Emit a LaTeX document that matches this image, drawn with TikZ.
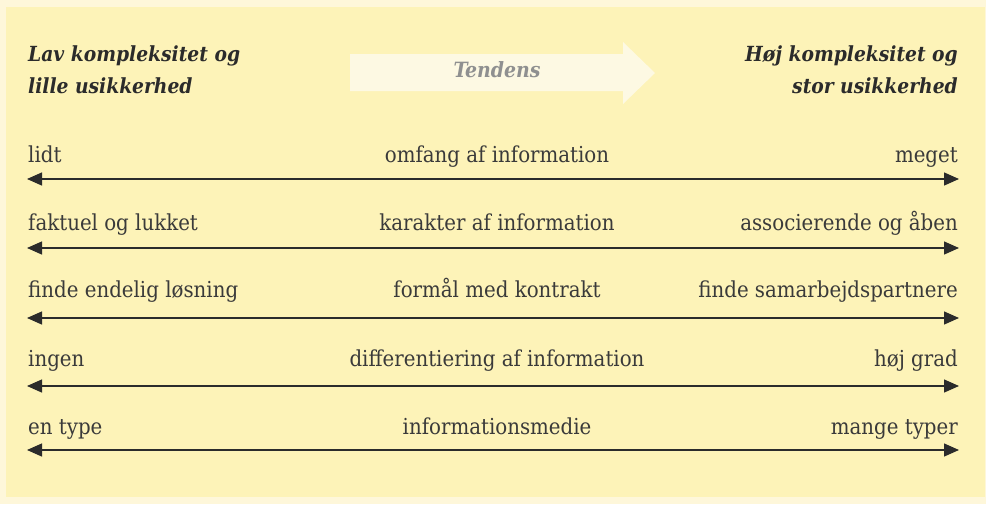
\documentclass[tikz,border=0pt]{standalone}
\usepackage{fontspec}
\setmainfont{DejaVu Serif Condensed}
\newfontfamily\headfont{DejaVu Serif Condensed}
\usetikzlibrary{arrows.meta}
\definecolor{outerbg}{HTML}{FEF7DA}
\definecolor{innerbg}{HTML}{FDF3B8}
\definecolor{tendfill}{HTML}{FDF9E3}
\definecolor{tendtext}{HTML}{8F9090}
\definecolor{ink}{HTML}{2B2B2B}
\definecolor{txt}{HTML}{3A3A3A}
\tikzset{
  lbl/.style={inner sep=0pt, font=\fontsize{22}{26}\selectfont, text=txt},
  lleft/.style={lbl, anchor=base west},
  lmid/.style={lbl, anchor=base},
  lright/.style={lbl, anchor=base east},
  head/.style={inner sep=0pt, font=\headfont\bfseries\itshape\fontsize{20.8}{24}\selectfont, text=ink},
  scaleline/.style={draw=ink, line width=1.3pt, {Triangle[length=15pt,width=13pt]}-{Triangle[length=15pt,width=13pt]}},
}
\begin{document}
\begin{tikzpicture}[x=1pt,y=-1pt]
\useasboundingbox (0,0) rectangle (986,504);
\fill[outerbg] (0,0) rectangle (986,504);
\fill[innerbg] (6,7) rectangle (985,497);
% Tendens arrow
\fill[tendfill] (350,54) -- (623,54) -- (623,42) -- (655,73) -- (623,104) -- (623,91) -- (350,91) -- cycle;
\node[inner sep=0pt, anchor=base, font=\headfont\bfseries\itshape\fontsize{21}{24}\selectfont, text=tendtext] (tend) at (497,77) {Tendens};
% headings
\node[head, anchor=base west] (hl1) at (28,61) {Lav kompleksitet og};
\node[head, anchor=base west] (hl2) at (28,93) {lille usikkerhed};
\node[head, anchor=base east] (hr1) at (958,61) {Høj kompleksitet og};
\node[head, anchor=base east] (hr2) at (958,93) {stor usikkerhed};
% rows
\foreach \i/\y/\t/\l/\m/\r in {
  1/179/162/lidt/omfang af information/meget,
  2/248/230/faktuel og lukket/karakter af information/associerende og åben,
  3/318/297/finde endelig løsning/formål med kontrakt/finde samarbejdspartnere,
  4/386/366/ingen/differentiering af information/høj grad,
  5/450/434/en type/informationsmedie/mange typer}{
  \node[lleft] (l\i) at (28,\t) {\l};
  \node[lmid] (m\i) at (497,\t) {\m};
  \node[lright] (r\i) at (958,\t) {\r};
  \coordinate (a\i) at (27,\y);
  \coordinate (b\i) at (959,\y);
  \draw[scaleline] (a\i) -- (b\i);
}
\end{tikzpicture}
\end{document}
